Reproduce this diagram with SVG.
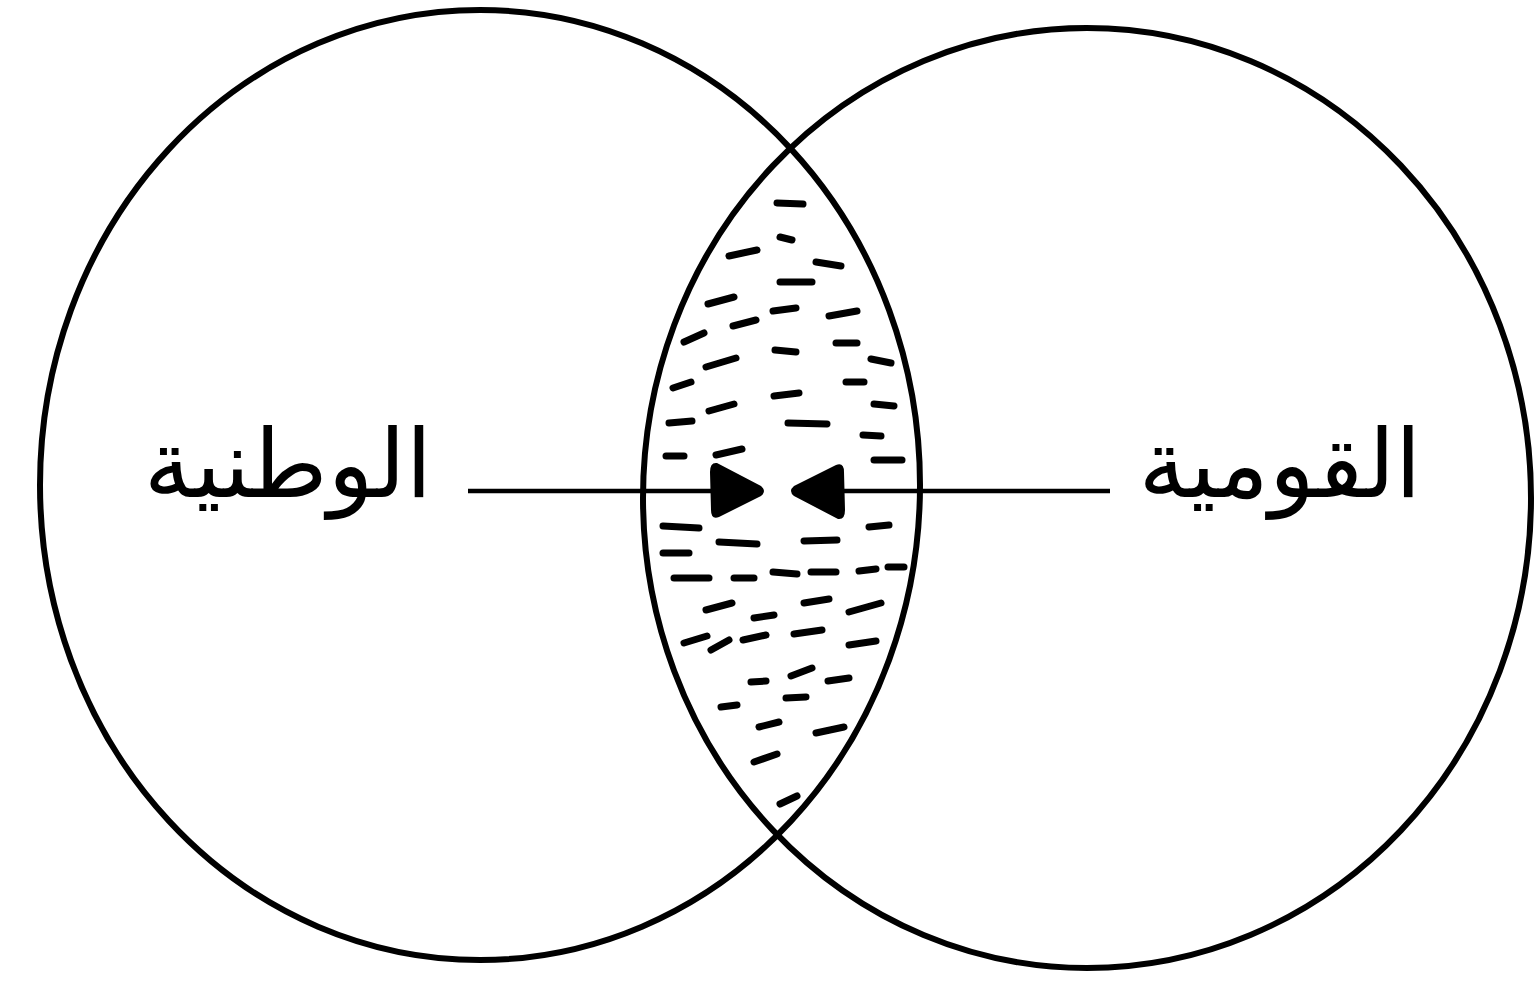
<svg xmlns="http://www.w3.org/2000/svg" width="1534" height="987" viewBox="0 0 1534 987">
<style>
.ring{fill:none;stroke:#000;stroke-width:6}
.hatch line{stroke:#000;stroke-width:7;stroke-linecap:round}
.conn{stroke:#000;stroke-width:4.5;fill:none}
.lbl{font-family:"DejaVu Sans",sans-serif;font-size:95px;fill:#000;text-anchor:middle}
</style>
<defs>
<marker id="ah" viewBox="0 0 56 58" refX="54" refY="29" markerWidth="56" markerHeight="58" markerUnits="userSpaceOnUse" orient="auto">
<path d="M8,1 Q1,0 1,10 L2,48 Q2,58 10,55 L52,34 Q58,29 52,24 Z" fill="#000"/>
</marker>
</defs>
<rect width="1534" height="987" fill="#fff"/>
<g id="node-left">
<ellipse class="ring" cx="480" cy="485" rx="440" ry="475"/>
<text class="lbl" x="288" y="497">الوطنية</text>
</g>
<g id="node-right">
<ellipse class="ring" cx="1087" cy="498" rx="444" ry="470"/>
<text class="lbl" x="1280" y="497">القومية</text>
</g>
<g id="overlap" class="hatch">
<line x1="777" y1="203" x2="803" y2="204"/>
<line x1="780" y1="237" x2="792" y2="240"/>
<line x1="729" y1="256" x2="757" y2="250"/>
<line x1="816" y1="262" x2="841" y2="266"/>
<line x1="780" y1="282" x2="812" y2="282"/>
<line x1="708" y1="304" x2="734" y2="297"/>
<line x1="773" y1="311" x2="796" y2="308"/>
<line x1="829" y1="316" x2="857" y2="311"/>
<line x1="733" y1="326" x2="756" y2="320"/>
<line x1="684" y1="342" x2="704" y2="333"/>
<line x1="775" y1="350" x2="796" y2="352"/>
<line x1="836" y1="343" x2="857" y2="343"/>
<line x1="706" y1="367" x2="736" y2="358"/>
<line x1="871" y1="359" x2="891" y2="363"/>
<line x1="673" y1="388" x2="691" y2="382"/>
<line x1="846" y1="382" x2="864" y2="382"/>
<line x1="774" y1="396" x2="799" y2="393"/>
<line x1="709" y1="411" x2="734" y2="404"/>
<line x1="874" y1="404" x2="894" y2="406"/>
<line x1="669" y1="423" x2="692" y2="421"/>
<line x1="788" y1="423" x2="827" y2="424"/>
<line x1="863" y1="435" x2="881" y2="436"/>
<line x1="666" y1="456" x2="684" y2="456"/>
<line x1="716" y1="455" x2="742" y2="449"/>
<line x1="874" y1="460" x2="902" y2="460"/>
<line x1="663" y1="526" x2="699" y2="528"/>
<line x1="719" y1="542" x2="757" y2="544"/>
<line x1="804" y1="541" x2="837" y2="540"/>
<line x1="869" y1="527" x2="889" y2="525"/>
<line x1="663" y1="553" x2="689" y2="553"/>
<line x1="674" y1="578" x2="709" y2="578"/>
<line x1="734" y1="578" x2="754" y2="578"/>
<line x1="773" y1="572" x2="797" y2="574"/>
<line x1="811" y1="572" x2="836" y2="572"/>
<line x1="859" y1="571" x2="876" y2="569"/>
<line x1="888" y1="567" x2="904" y2="567"/>
<line x1="706" y1="610" x2="732" y2="603"/>
<line x1="804" y1="603" x2="829" y2="599"/>
<line x1="849" y1="612" x2="881" y2="603"/>
<line x1="754" y1="618" x2="774" y2="615"/>
<line x1="684" y1="643" x2="707" y2="636"/>
<line x1="711" y1="650" x2="729" y2="640"/>
<line x1="743" y1="640" x2="766" y2="635"/>
<line x1="794" y1="634" x2="822" y2="630"/>
<line x1="849" y1="645" x2="876" y2="641"/>
<line x1="751" y1="682" x2="766" y2="681"/>
<line x1="791" y1="676" x2="812" y2="668"/>
<line x1="828" y1="681" x2="849" y2="678"/>
<line x1="721" y1="707" x2="737" y2="705"/>
<line x1="786" y1="698" x2="806" y2="697"/>
<line x1="759" y1="727" x2="779" y2="722"/>
<line x1="816" y1="733" x2="844" y2="727"/>
<line x1="754" y1="762" x2="777" y2="754"/>
<line x1="780" y1="804" x2="797" y2="796"/>
</g>
<g id="connectors">
<line class="conn" x1="468" y1="491" x2="763" y2="491" marker-end="url(#ah)"/>
<line class="conn" x1="1110" y1="491" x2="792" y2="491" marker-end="url(#ah)"/>
</g>
</svg>
